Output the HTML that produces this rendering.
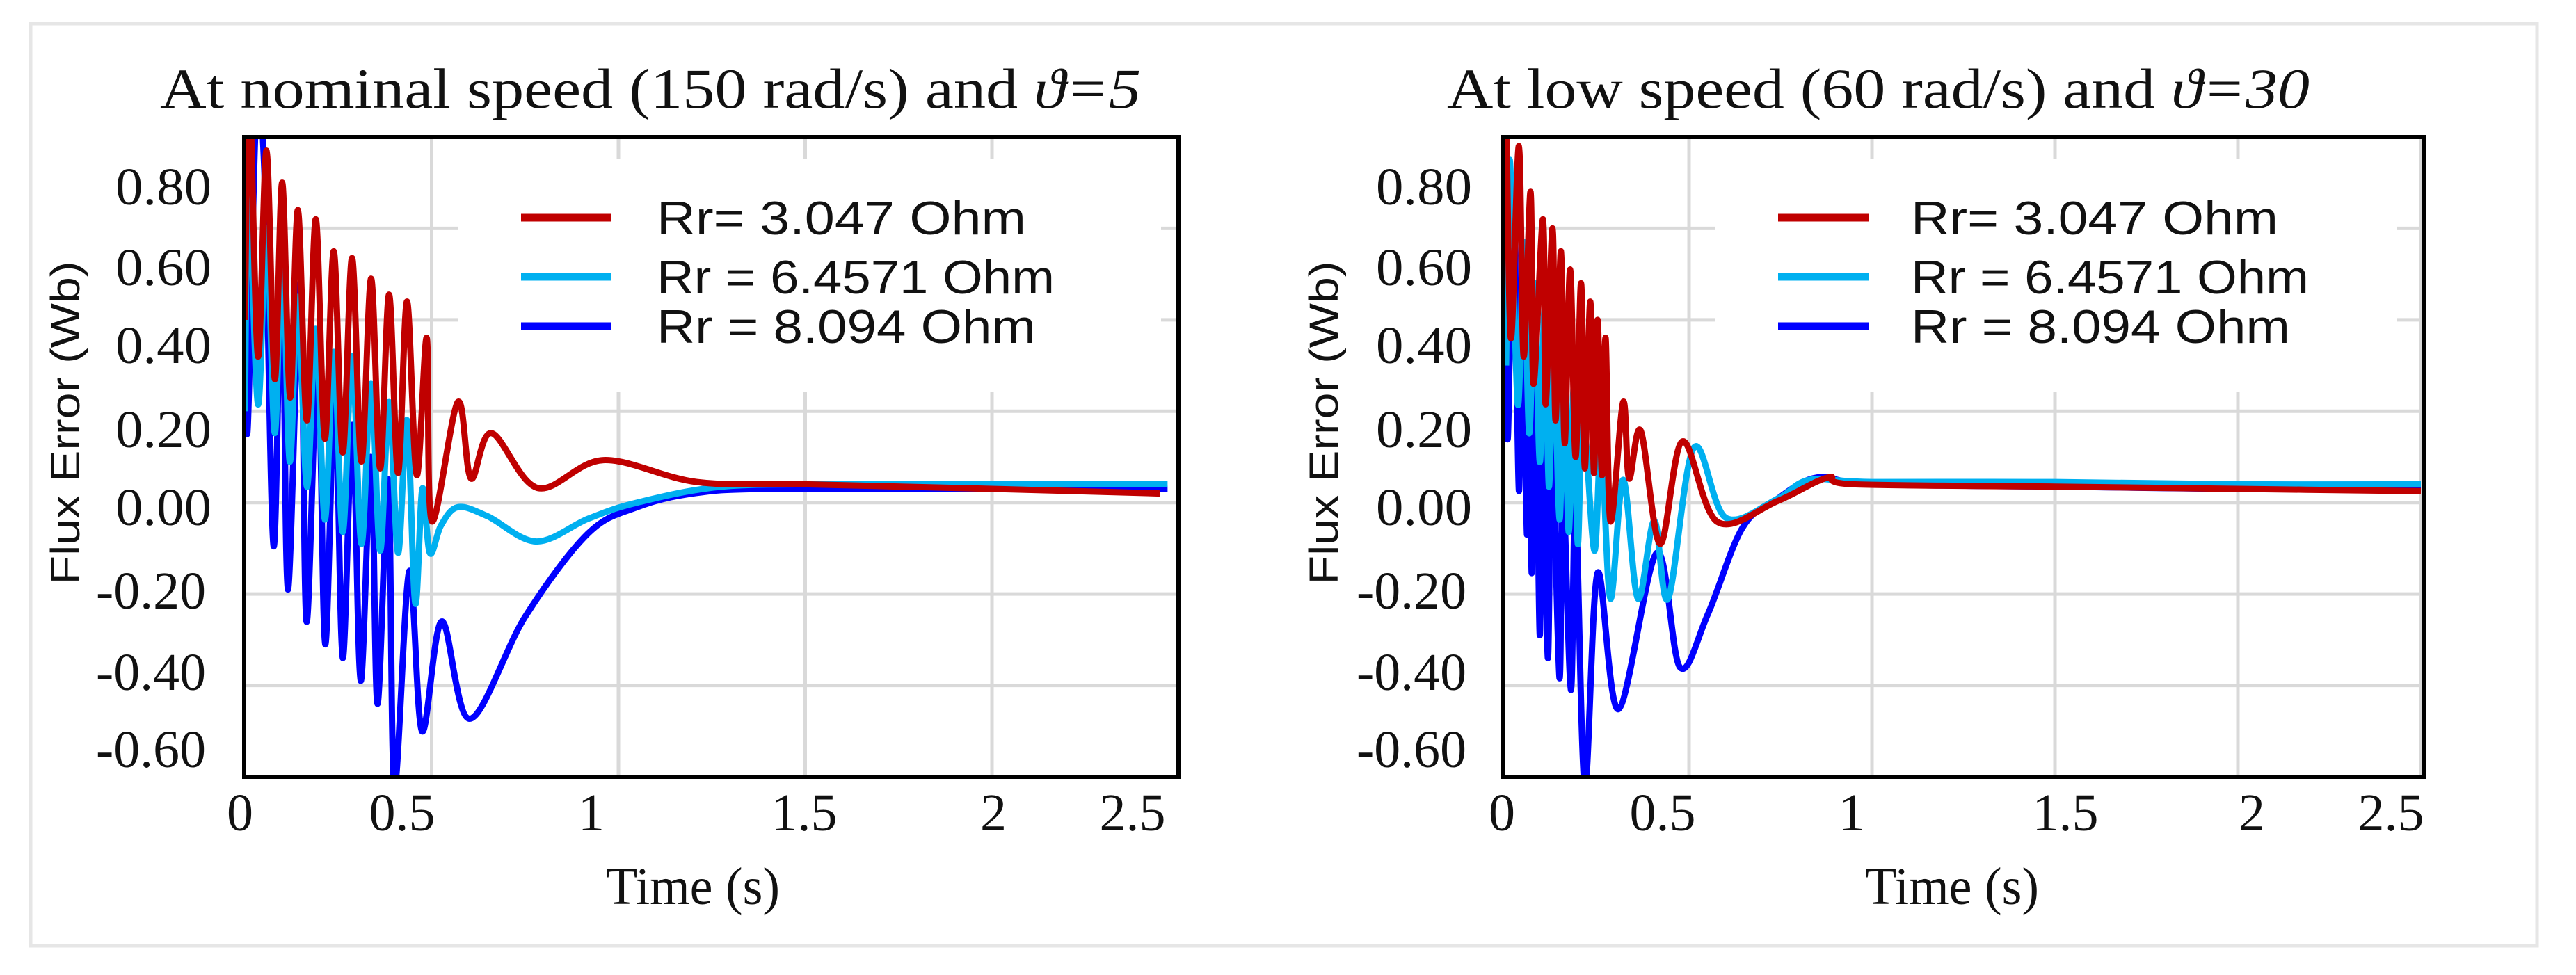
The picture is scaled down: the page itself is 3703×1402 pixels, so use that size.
<!DOCTYPE html>
<html><head><meta charset="utf-8"><style>
html,body{margin:0;padding:0;background:#fff}
svg{display:block}
text{font-family:"Liberation Serif",serif;fill:#111}
.sans{font-family:"Liberation Sans",sans-serif}
</style></head><body>
<svg id="fig" width="3703" height="1402" viewBox="0 0 3703 1402" xmlns="http://www.w3.org/2000/svg">
<rect x="44" y="34" width="3603" height="1326" fill="#fff" stroke="#e6e6e6" stroke-width="5"/>
<g id="left"></g>
<g id="right"></g>
</svg>
<script>
const xTicks = [0, 0.5, 1, 1.5, 2, 2.5];
const xTickLabels = ["0", "0.5", "1", "1.5", "2", "2.5"];
const yTicks = [0.8, 0.6, 0.4, 0.2, 0, -0.2, -0.4, -0.6];
const yTickLabels = ["0.80", "0.60", "0.40", "0.20", "0.00", "-0.20", "-0.40", "-0.60"];
const seriesNames = ["Rr= 3.047  Ohm", "Rr = 6.4571 Ohm", "Rr = 8.094  Ohm"];

const leftRedT = [0,0.012,0.035,0.058,0.080,0.100,0.121,0.142,0.166,0.190,0.214,0.238,0.262,0.287,0.312,0.338,0.362,0.386,0.410,0.434,0.460,0.487,0.500,0.570,0.605,0.660,0.784,0.960,1.210,1.500,2.000,2.450];
const leftRedV = [0.40,0.90,0.32,0.77,0.27,0.70,0.23,0.64,0.18,0.62,0.14,0.55,0.11,0.535,0.09,0.49,0.075,0.455,0.065,0.44,0.06,0.36,-0.04,0.22,0.053,0.152,0.032,0.093,0.045,0.04,0.03,0.02];
const leftCyanT = [0,0.010,0.035,0.058,0.080,0.100,0.120,0.142,0.166,0.190,0.214,0.238,0.262,0.287,0.312,0.338,0.362,0.386,0.410,0.434,0.456,0.475,0.495,0.525,0.570,0.650,0.780,0.920,1.050,1.280,1.600,2.000,2.470];
const leftCyanV = [0.20,0.70,0.215,0.60,0.152,0.566,0.09,0.45,0.035,0.38,-0.037,0.33,-0.064,0.32,-0.09,0.26,-0.105,0.22,-0.11,0.18,-0.22,0.03,-0.11,-0.05,-0.01,-0.03,-0.085,-0.035,0.0,0.035,0.04,0.04,0.04];
const leftBlueT = [0,0.006,0.030,0.052,0.077,0.099,0.115,0.148,0.165,0.195,0.215,0.241,0.262,0.288,0.310,0.338,0.355,0.384,0.400,0.440,0.474,0.527,0.602,0.750,0.918,1.050,1.200,1.400,2.000,2.470];
const leftBlueV = [0.92,0.15,0.85,0.73,-0.095,0.56,-0.19,0.48,-0.26,0.32,-0.31,0.24,-0.34,0.17,-0.39,0.10,-0.44,0.05,-0.62,-0.15,-0.50,-0.26,-0.473,-0.25,-0.068,-0.01,0.02,0.03,0.03,0.03];

const rightRedT = [0,0.013,0.035,0.048,0.067,0.075,0.101,0.108,0.127,0.135,0.150,0.160,0.175,0.190,0.205,0.215,0.230,0.240,0.250,0.262,0.272,0.285,0.320,0.336,0.368,0.421,0.482,0.577,0.741,0.880,0.950,1.500,2.000,2.500];
const rightRedV = [0.90,0.36,0.78,0.32,0.68,0.26,0.62,0.215,0.60,0.18,0.55,0.13,0.51,0.10,0.48,0.075,0.44,0.065,0.40,0.06,0.36,-0.04,0.22,0.053,0.157,-0.09,0.134,-0.042,0.003,0.055,0.04,0.035,0.03,0.025];
const rightCyanT = [0,0.010,0.032,0.048,0.063,0.078,0.092,0.105,0.117,0.130,0.146,0.158,0.171,0.185,0.196,0.210,0.241,0.260,0.285,0.320,0.360,0.405,0.443,0.513,0.600,0.741,0.830,1.000,1.500,2.000,2.500];
const rightCyanV = [0.30,0.75,0.215,0.57,0.152,0.48,0.089,0.42,0.035,0.35,-0.037,0.30,-0.064,0.25,-0.091,0.20,-0.105,0.13,-0.21,0.05,-0.21,-0.04,-0.21,0.12,-0.033,0.008,0.05,0.045,0.045,0.04,0.04];
const rightBlueT = [0,0.004,0.020,0.035,0.045,0.057,0.063,0.070,0.080,0.092,0.100,0.114,0.125,0.146,0.155,0.177,0.190,0.215,0.250,0.307,0.412,0.475,0.551,0.646,0.741,0.850,1.000,1.500,2.000,2.500];
const rightBlueV = [0.92,0.14,0.70,0.026,0.55,-0.07,0.45,-0.154,0.35,-0.29,0.25,-0.34,0.15,-0.384,0.05,-0.41,0.0,-0.62,-0.154,-0.452,-0.11,-0.36,-0.245,-0.055,0.008,0.055,0.04,0.035,0.03,0.03];

const colors = ["#C00000", "#00B0F0", "#0000FF"];
const NS = "http://www.w3.org/2000/svg";
function mk(tag, attrs, parent) {
  const e = document.createElementNS(NS, tag);
  for (const k in attrs) e.setAttribute(k, attrs[k]);
  parent.appendChild(e);
  return e;
}
function pathFrom(ts, vs, sx, sy) {
  const p = ts.map((t, i) => [sx(t), sy(vs[i])]);
  let d = "M" + p[0][0].toFixed(1) + "," + p[0][1].toFixed(1);
  for (let i = 0; i < p.length - 1; i++) {
    const p0 = p[Math.max(0, i - 1)], p1 = p[i], p2 = p[i + 1], p3 = p[Math.min(p.length - 1, i + 2)];
    const c1x = p1[0] + (p2[0] - p0[0]) / 6, c1y = p1[1] + (p2[1] - p0[1]) / 6;
    const c2x = p2[0] - (p3[0] - p1[0]) / 6, c2y = p2[1] - (p3[1] - p1[1]) / 6;
    d += "C" + c1x.toFixed(1) + "," + c1y.toFixed(1) + " " + c2x.toFixed(1) + "," + c2y.toFixed(1) + " " + p2[0].toFixed(1) + "," + p2[1].toFixed(1);
  }
  return d;
}

function drawChart(g, cfg) {
  const L = cfg.left, R = cfg.right, T = 197, B = 1117;
  const sx = t => cfg.x0 + t * cfg.pxPerSec;
  const sy = v => T + (0.8 - v) / 1.4 * (B - T);
  const title = mk("text", {x: cfg.titleX, y: 155, "font-size": 82, textLength: cfg.titleW, lengthAdjust: "spacingAndGlyphs"}, g);
  
  
  title.innerHTML = cfg.titleHTML;
  xTicks.forEach((t, i) => {
    if (i === 0) return;
    const l = mk("line", {x1: sx(t), x2: sx(t), y1: T, y2: B, stroke: "#d9d9d9", "stroke-width": 5}, g);
    
    
  });
  yTicks.forEach(v => {
    const l = mk("line", {x1: L, x2: R, y1: sy(v), y2: sy(v), stroke: "#d9d9d9", "stroke-width": 5}, g);
    
    
  });
  const lb = mk("rect", {x: cfg.legX - 90, y: 228, width: cfg.legBgW, height: 335, fill: "#fff"}, g);
  
  
  const cp = mk("clipPath", {id: cfg.id + "clip"}, g);
  mk("rect", {x: L, y: T, width: R - L, height: B - T}, cp);
  const sg = mk("g", {"clip-path": "url(#" + cfg.id + "clip)"}, g);
  
  
  [2, 1, 0].forEach(i => {
    const p = mk("path", {d: pathFrom(cfg.series[i][0], cfg.series[i][1], sx, sy), fill: "none", stroke: colors[i], "stroke-width": 9, "stroke-linejoin": "round"}, sg);
    
    
  });
  const fr = mk("rect", {x: L, y: T, width: R - L, height: B - T, fill: "none", stroke: "#000", "stroke-width": 6}, g);
  
  
  const yLabY = [268, 384, 496, 617, 729, 849, 966, 1077];
  yTickLabels.forEach((s, i) => {
    const neg = s[0] === "-";
    const t = mk("text", {x: cfg.yLabX - (neg ? 8 : 0), y: yLabY[i] + 26, "font-size": 76, "text-anchor": "end", textLength: neg ? 158 : 138, lengthAdjust: "spacingAndGlyphs"}, g);
    
    
    t.textContent = s;
  });
  xTickLabels.forEach((s, i) => {
    const t = mk("text", {x: cfg.xLabX[i], y: 1194, "font-size": 76, "text-anchor": "middle"}, g);
    
    
    t.textContent = s;
  });
  const xt = mk("text", {x: cfg.xTitleX, y: 1300, "font-size": 76, "text-anchor": "middle", textLength: 250, lengthAdjust: "spacingAndGlyphs"}, g);
  
  
  xt.textContent = "Time (s)";
  const yt = mk("text", {x: 0, y: 0, "font-size": 58, "text-anchor": "middle", "class": "sans", textLength: 465, lengthAdjust: "spacingAndGlyphs", transform: "translate(" + cfg.yTitleX + ",608) rotate(-90)"}, g);
  
  
  yt.textContent = "Flux Error (Wb)";
  const legY = [313, 398, 469];
  seriesNames.forEach((s, i) => {
    const ln = mk("line", {x1: cfg.legX, x2: cfg.legX + 130, y1: legY[i], y2: legY[i], stroke: colors[i], "stroke-width": 11}, g);
    
    
    const tx = mk("text", {x: cfg.legTextX, y: legY[i] + 24, "font-size": 68, "class": "sans", textLength: cfg.legW[i], lengthAdjust: "spacingAndGlyphs", "xml:space": "preserve"}, g);
    
    
    tx.textContent = s;
  });
}

drawChart(document.getElementById("left"), {
  id: "l", left: 351, right: 1694, x0: 352, pxPerSec: 537,
  titleX: 230, titleW: 1410,
  titleHTML: 'At nominal speed (150 rad/s) and <tspan font-style="italic">ϑ=5</tspan>',
  series: [[leftRedT, leftRedV], [leftCyanT, leftCyanV], [leftBlueT, leftBlueV]],
  yLabX: 304, xLabX: [345, 578, 850, 1156, 1428, 1628],
  xTitleX: 996, yTitleX: 114,
  legX: 749, legTextX: 944, legBgW: 1010, legW: [531, 572, 545]
});
drawChart(document.getElementById("right"), {
  id: "r", left: 2160, right: 3484, x0: 2165, pxPerSec: 526,
  titleX: 2080, titleW: 1240,
  titleHTML: 'At low speed (60 rad/s) and <tspan font-style="italic">ϑ=30</tspan>',
  series: [[rightRedT, rightRedV], [rightCyanT, rightCyanV], [rightBlueT, rightBlueV]],
  yLabX: 2116, xLabX: [2159, 2390, 2662, 2969, 3237, 3437],
  xTitleX: 2806, yTitleX: 1923,
  legX: 2556, legTextX: 2747, legBgW: 980, legW: [528, 572, 545]
});
</script>
</body></html>
